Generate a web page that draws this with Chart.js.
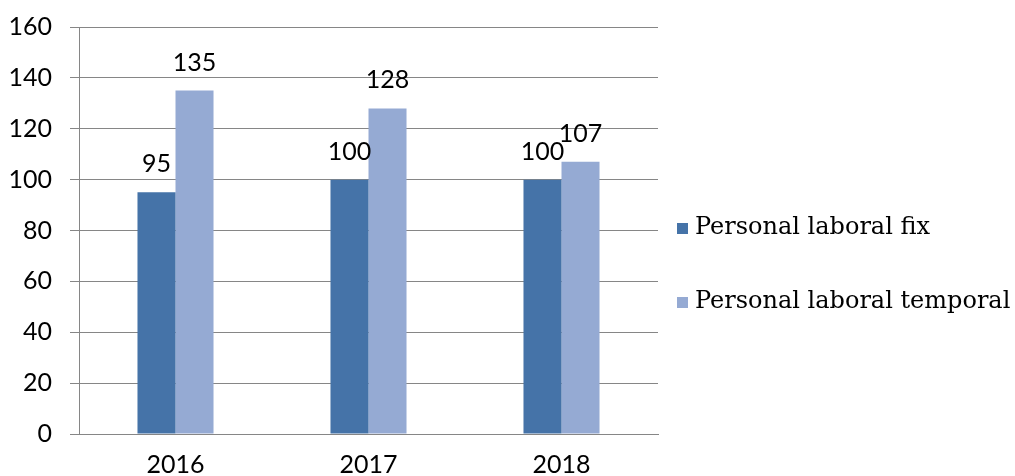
<!DOCTYPE html>
<html>
<head>
<meta charset="utf-8">
<script src="https://cdn.jsdelivr.net/npm/chart.js@4"></script>
<style>
html,body{margin:0;padding:0;background:#fff;overflow:hidden;}
#wrap{width:1015px;height:476px;position:relative;overflow:hidden;}
</style>
</head>
<body>
<div id="wrap"><canvas id="c" width="1015" height="496"></canvas></div>
<script>
const categories = ['2016', '2017', '2018'];
const fixValues = [95, 100, 100];
const tempValues = [135, 128, 107];
const seriesNames = ['Personal laboral fix', 'Personal laboral temporal'];
const yTicks = [0, 20, 40, 60, 80, 100, 120, 140, 160];
const colors = ['#4573A8', '#95AAD3'];

const tickFont = {family: 'Lato, "Open Sans", sans-serif', size: 25};
const legendFont = '24px "DejaVu Serif", serif';

const valueLabels = {
  id: 'valueLabels',
  afterDatasetsDraw(chart) {
    const ctx = chart.ctx;
    ctx.save();
    ctx.font = '25px Lato, "Open Sans", sans-serif';
    ctx.fillStyle = '#000';
    ctx.textAlign = 'center';
    ctx.textBaseline = 'middle';
    chart.data.datasets.forEach((ds, i) => {
      chart.getDatasetMeta(i).data.forEach((bar, j) => {
        ctx.fillText(String(ds.data[j]), bar.x, bar.y - 28);
      });
    });
    ctx.restore();
  }
};

const sideLegend = {
  id: 'sideLegend',
  afterDraw(chart) {
    const ctx = chart.ctx;
    const a = chart.chartArea;
    ctx.save();
    ctx.font = legendFont;
    ctx.textBaseline = 'middle';
    const ys = [a.top + 201, a.top + 275];
    chart.data.datasets.forEach((ds, i) => {
      ctx.fillStyle = ds.backgroundColor;
      ctx.fillRect(a.right + 19, ys[i] - 5, 11, 11);
      ctx.fillStyle = '#000';
      ctx.fillText(ds.label, a.right + 37, ys[i]);
    });
    ctx.restore();
  }
};

new Chart(document.getElementById('c'), {
  type: 'bar',
  data: {
    labels: categories,
    datasets: [
      {label: seriesNames[0], data: fixValues, backgroundColor: colors[0]},
      {label: seriesNames[1], data: tempValues, backgroundColor: colors[1]}
    ]
  },
  options: {
    responsive: false,
    animation: false,
    events: [],
    layout: {padding: {left: 0, right: 357, top: 27, bottom: 0}},
    datasets: {bar: {categoryPercentage: 0.394, barPercentage: 1.0}},
    plugins: {legend: {display: false}, tooltip: {enabled: false}},
    scales: {
      x: {
        grid: {display: false, drawTicks: false},
        border: {display: true, color: '#868686', width: 1},
        ticks: {font: tickFont, color: '#000', padding: 16}
      },
      y: {
        min: 0, max: 160,
        afterBuildTicks(scale) { scale.ticks = yTicks.map(v => ({value: v})); },
        afterFit(scale) { scale.width = 79; scale.paddingTop = 0; },
        grid: {color: '#868686', lineWidth: 1, tickLength: 9, drawTicks: true},
        border: {display: true, color: '#868686', width: 1},
        ticks: {font: tickFont, color: '#000', padding: 18}
      }
    }
  },
  plugins: [valueLabels, sideLegend]
});
</script>
</body>
</html>
